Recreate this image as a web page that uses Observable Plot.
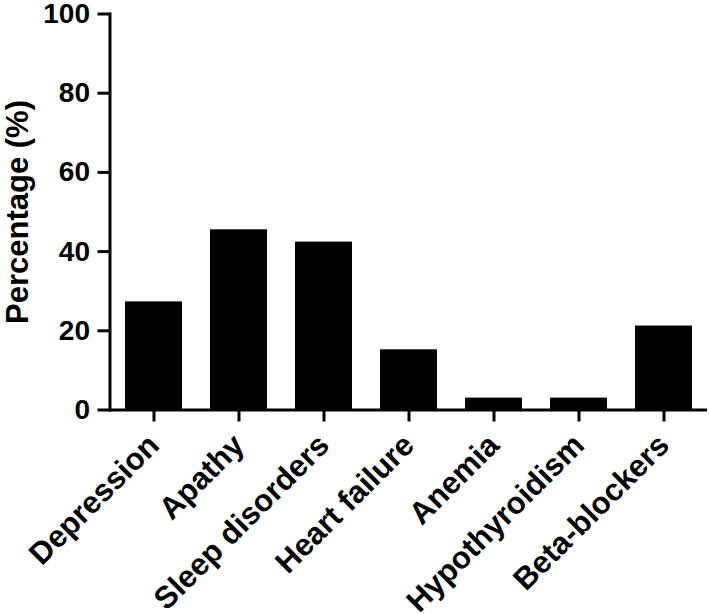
<!DOCTYPE html>
<html>
<head>
<meta charset="utf-8">
<script src="https://cdn.jsdelivr.net/npm/d3@7"></script>
<script src="https://cdn.jsdelivr.net/npm/@observablehq/plot@0.6"></script>
<style>
  html, body { margin: 0; padding: 0; background: #fff; }
</style>
</head>
<body>
<div id="chart"></div>
<script>
const categories = ["Depression", "Apathy", "Sleep disorders", "Heart failure", "Anemia", "Hypothyroidism", "Beta-blockers"];
const percentages = [27.3, 45.5, 42.4, 15.2, 3.0, 3.0, 21.2];
const yTicks = [0, 20, 40, 60, 80, 100];
const yTitle = "Percentage (%)";

const data = categories.map((c, i) => ({category: c, value: percentages[i]}));

const font = "'Liberation Sans', Arial, Helvetica, sans-serif";

const plot = Plot.plot({
  width: 709,
  height: 614,
  marginLeft: 109.5,
  marginRight: 2,
  marginTop: 13.5,
  marginBottom: 204.5,
  style: {fontFamily: font, fontWeight: "bold", fontSize: "28px", color: "#000", background: "#fff", overflow: "visible"},
  x: {domain: categories, paddingInner: 0.33, paddingOuter: 0.165, label: null},
  y: {domain: [0, 100], ticks: yTicks, label: null},
  marks: [
    Plot.barY(data, {x: "category", y: "value", fill: "#000"}),
    Plot.axisY({ticks: yTicks, tickSize: 12, tickPadding: 8, strokeWidth: 3, label: null, fontSize: 28, fontWeight: "bold"}),
    Plot.axisX({tickSize: 12, tickPadding: 18, tickRotate: -45, strokeWidth: 3, label: null, fontSize: 31, fontWeight: "bold"}),
    Plot.ruleY([0], {strokeWidth: 3, stroke: "#000"}),
    Plot.frame({anchor: "left", strokeWidth: 3, stroke: "#000"}),
    Plot.text([yTitle], {frameAnchor: "left", textAnchor: "middle", rotate: -90, dx: -92, fontSize: 31, fontWeight: "bold", fill: "#000"})
  ]
});

document.getElementById("chart").appendChild(plot);
</script>
</body>
</html>
